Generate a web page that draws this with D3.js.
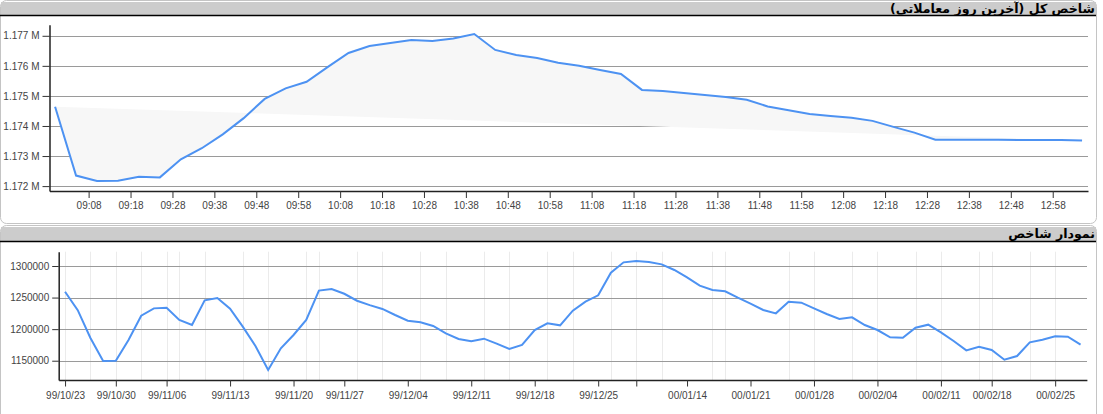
<!DOCTYPE html>
<html><head><meta charset="utf-8">
<script src="https://cdn.jsdelivr.net/npm/d3@7"></script>
<style>
html,body{margin:0;padding:0;background:#fff;}
.hdr{position:absolute;right:8px;direction:rtl;font-family:"DejaVu Sans",sans-serif;font-size:12.6px;font-weight:bold;color:#000;white-space:nowrap;line-height:13px;}
svg text{font-family:"Liberation Sans",Arial,sans-serif;}
</style></head>
<body>
<div id="wrap" style="position:relative;width:1103px;height:414px;"></div>
<script>
// ---------- Top chart data (last trading day, 5-minute points) ----------
const intradayTimes = ["09:00","09:05","09:10","09:15","09:20","09:25","09:30","09:35","09:40","09:45",
  "09:50","09:55","10:00","10:05","10:10","10:15","10:20","10:25","10:30","10:35",
  "10:40","10:45","10:50","10:55","11:00","11:05","11:10","11:15","11:20","11:25",
  "11:30","11:35","11:40","11:45","11:50","11:55","12:00","12:05","12:10","12:15",
  "12:20","12:25","12:30","12:35","12:40","12:45","12:50","12:55","13:00","13:05"];
const intradayValues = [1174640,1172350,1172170,1172180,1172310,1172290,1172890,1173260,1173720,1174260,
  1174900,1175250,1175470,1175960,1176430,1176660,1176760,1176860,1176830,1176910,
  1177060,1176530,1176360,1176260,1176100,1176000,1175860,1175730,1175200,1175160,
  1175100,1175030,1174960,1174870,1174650,1174520,1174400,1174330,1174270,1174170,
  1173970,1173780,1173545,1173543,1173541,1173538,1173535,1173532,1173530,1173515];
const intradayTickLabels = ["09:08","09:18","09:28","09:38","09:48","09:58","10:08","10:18","10:28","10:38",
  "10:48","10:58","11:08","11:18","11:28","11:38","11:48","11:58","12:08","12:18",
  "12:28","12:38","12:48","12:58"];
const intradayYTicks = [1172000,1173000,1174000,1175000,1176000,1177000];

// ---------- Bottom chart data (daily index) ----------
const dailyValues = [1259300,1230000,1186000,1149500,1150000,1182800,1221300,1232900,1234000,1214500,
  1206500,1245600,1249300,1232400,1203900,1173300,1135300,1169600,1190700,1214500,
  1261000,1263500,1256000,1245000,1238000,1232000,1222400,1213400,1210800,1205000,
  1193400,1184400,1180700,1184900,1177000,1168500,1174900,1198600,1209200,1206000,
  1229300,1243500,1253500,1289400,1305800,1307900,1306300,1302600,1293700,1282000,
  1268800,1262000,1259900,1249800,1240300,1230300,1225000,1243500,1241900,1232900,
  1224000,1216100,1218700,1206500,1198600,1187000,1186500,1202300,1207100,1194900,
  1181200,1166400,1172200,1167000,1151600,1157400,1179100,1183300,1188600,1188000,1175400];
const dailyTickIndex = [0,4,8,13,18,22,27,32,37,42,45,49,54,59,64,69,73,78];
const dailyTickLabels = ["99/10/23","99/10/30","99/11/06","99/11/13","99/11/20","99/11/27","99/12/04",
  "99/12/11","99/12/18","99/12/25","","00/01/14","00/01/21","00/01/28","00/02/04","00/02/11","00/02/18","00/02/25"];
const dailyMinorGrid = [0,2,4,6,8,9,11,14,16,19,20,23,25,28,30,33,35,38,40,43,45,47,51,52,57,59,62,64,67,69,72,73,76,78];
const dailyYTicks = [1150000,1200000,1250000,1300000];

const titleTop = "شاخص کل (آخرین روز معاملاتی)";
const titleBottom = "نمودار شاخص";

// ---------- Layout ----------
const W = 1103, H = 414;
const LINE = "#4d92f2";
const wrap = d3.select("#wrap");
const svg = wrap.append("svg").attr("width", W).attr("height", H).style("position","absolute").style("left","0").style("top","0");

function panel(y0, h, hdrTop, hdrBottom) {
  svg.append("rect").attr("x",0.5).attr("y",y0+0.5).attr("width",1096).attr("height",h)
    .attr("rx",6).attr("fill","#fff").attr("stroke","#c4c4c4");
  svg.append("rect").attr("x",1).attr("y",hdrTop).attr("width",1095).attr("height",hdrBottom-hdrTop)
    .attr("fill","#cccccc");
  svg.append("line").attr("x1",0).attr("x2",1096).attr("y1",hdrBottom+0.5).attr("y2",hdrBottom+0.5)
    .attr("stroke","#000").attr("stroke-width",1.5);
}
panel(0, 223, 2, 15);
panel(225, 200, 227, 241);

wrap.append("div").attr("class","hdr").style("top","2px").text(titleTop);
wrap.append("div").attr("class","hdr").style("top","227px").text(titleBottom);

// ---------- Top chart ----------
const parseT = d3.timeParse("%H:%M");
const tData = intradayTimes.map((t,i)=>({t:parseT(t), v:intradayValues[i]}));
const t0 = tData[0].t, t1 = tData[tData.length-1].t;
const xT = d3.scaleTime()
  .domain([new Date(+t0 - 80000), new Date(+t1 + 85000)])
  .range([49.5, 1088]);
const yT = d3.scaleLinear().domain([1171837, 1177369]).range([191, 24.7]);

const gT = svg.append("g");
gT.selectAll("line.grid").data(intradayYTicks).join("line")
  .attr("x1",49.5).attr("x2",1088)
  .attr("y1",d=>Math.round(yT(d))+0.5).attr("y2",d=>Math.round(yT(d))+0.5)
  .attr("stroke","#9a9a9a").attr("stroke-width",1);

const lineT = d3.line().x(d=>xT(d.t)).y(d=>yT(d.v));
gT.append("path").datum(tData).attr("d",lineT).attr("fill","#f7f7f7").attr("stroke","none");
gT.append("path").datum(tData).attr("d",lineT).attr("fill","none").attr("stroke",LINE).attr("stroke-width",2);

const axYT = gT.append("g").attr("transform","translate(49.5,0)")
  .call(d3.axisLeft(yT).tickValues(intradayYTicks).tickSize(7).tickSizeOuter(0).tickPadding(3)
    .tickFormat(d=>(d/1e6).toFixed(3)+" M"));
const axXT = gT.append("g").attr("transform","translate(0,191)")
  .call(d3.axisBottom(xT).tickValues(intradayTickLabels.map(parseT)).tickSize(7).tickSizeOuter(0).tickPadding(4)
    .tickFormat(d3.timeFormat("%H:%M")));

// ---------- Bottom chart ----------
const xD = d3.scaleLinear().domain([-0.5, dailyValues.length - 0.5]).range([58.7, 1086.9]);
const yD = d3.scaleLinear().domain([1119450, 1322650]).range([380, 251.7]);
const gD = svg.append("g");
gD.selectAll("line.minor").data(dailyMinorGrid).join("line")
  .attr("x1",d=>Math.round(xD(d))+0.5).attr("x2",d=>Math.round(xD(d))+0.5)
  .attr("y1",251.7).attr("y2",380).attr("stroke","#ebebeb");
gD.selectAll("line.grid").data(dailyYTicks).join("line")
  .attr("x1",58.7).attr("x2",1087)
  .attr("y1",d=>Math.round(yD(d))+0.5).attr("y2",d=>Math.round(yD(d))+0.5)
  .attr("stroke","#9a9a9a");
const lineD = d3.line().x((d,i)=>xD(i)).y(d=>yD(d));
gD.append("path").datum(dailyValues).attr("d",lineD).attr("fill","none").attr("stroke",LINE).attr("stroke-width",2);

const axYD = gD.append("g").attr("transform","translate(58.7,0)")
  .call(d3.axisLeft(yD).tickValues(dailyYTicks).tickSize(6.5).tickSizeOuter(0).tickPadding(3).tickFormat(d3.format("d")));
const axXD = gD.append("g").attr("transform","translate(0,380)")
  .call(d3.axisBottom(xD).tickValues(dailyTickIndex).tickSize(6.5).tickSizeOuter(0).tickPadding(5)
    .tickFormat((d,i)=>dailyTickLabels[i]));

[axYT, axXT, axYD, axXD].forEach(a=>{
  a.selectAll("text").attr("font-size",10).attr("fill","#444").attr("font-family","'Liberation Sans',Arial,sans-serif");
  a.selectAll("line").attr("stroke","#333");
  a.select("path.domain").attr("stroke","#222").attr("stroke-width",1.5);
});
</script>
</body></html>
